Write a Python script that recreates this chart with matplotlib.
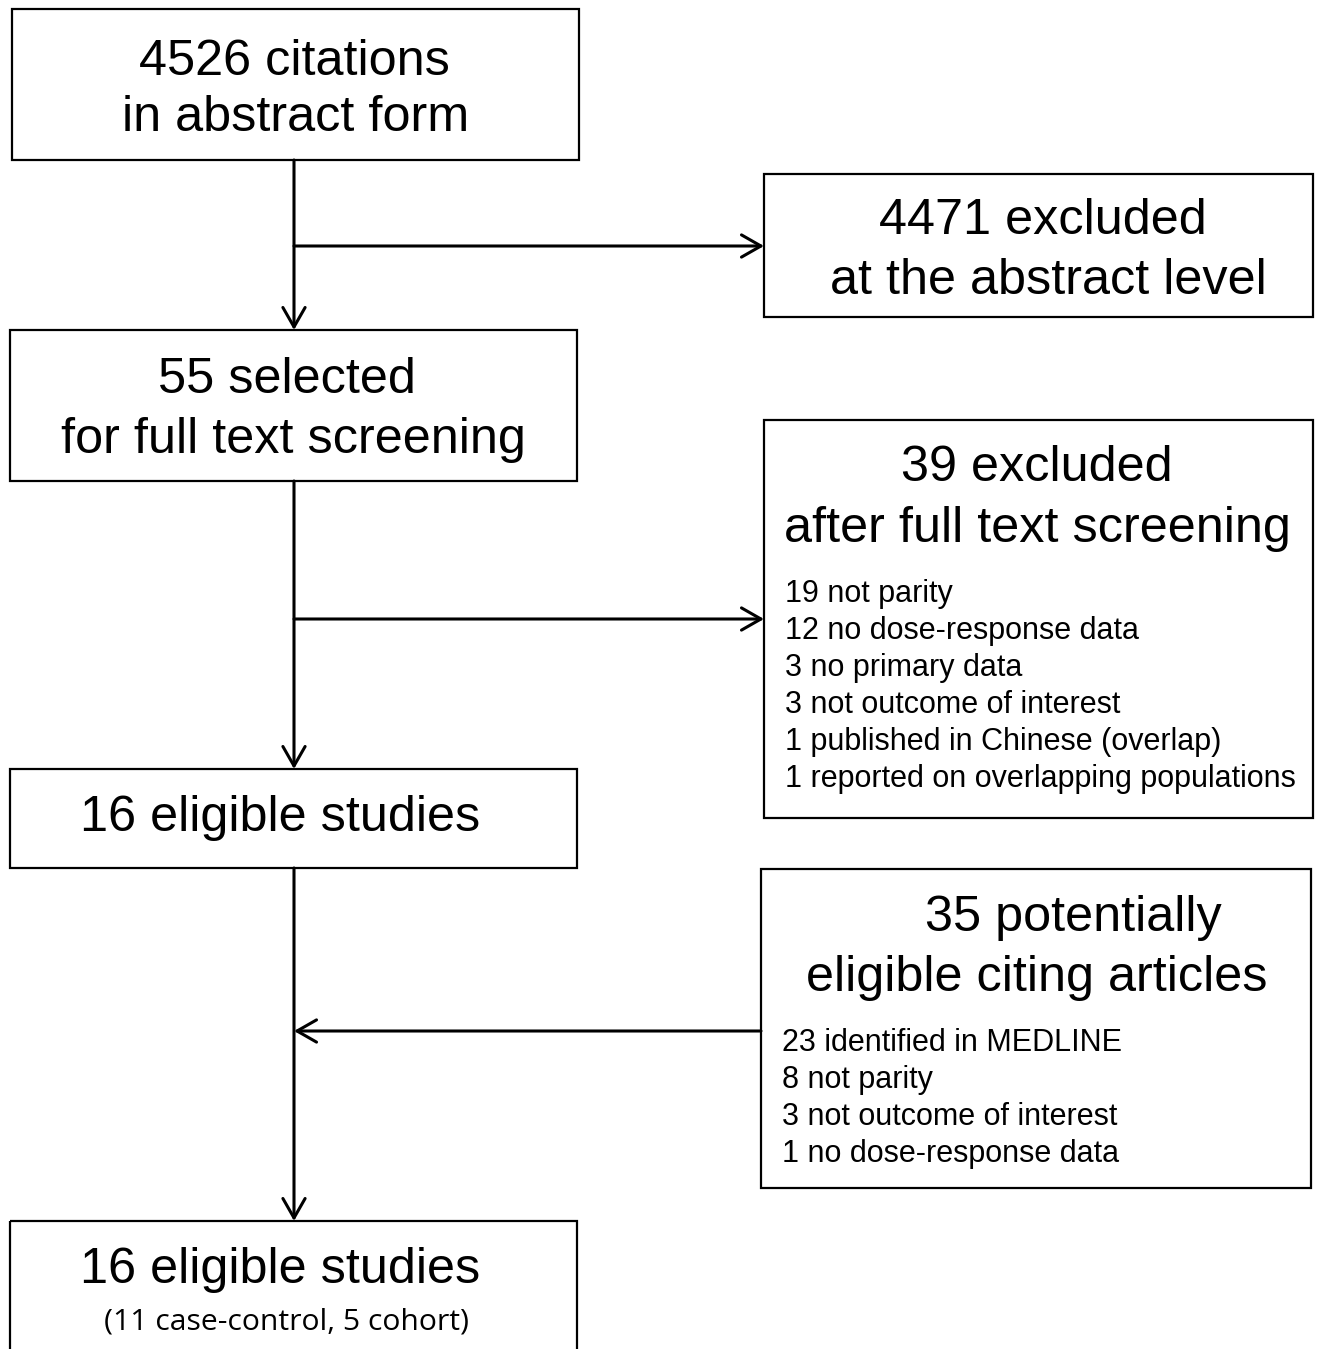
import matplotlib
matplotlib.use("Agg")
import matplotlib.pyplot as plt
from matplotlib.patches import Rectangle

W, H = 1320, 1349

# Textos de las cajas
caja1 = ["4526 citations", "in abstract form"]
caja2 = ["4471 excluded", "at the abstract level"]
caja3 = ["55 selected", "for full text screening"]
caja4 = ["39 excluded", "after full text screening"]
caja4_items = ["19 not parity", "12 no dose-response data", "3 no primary data",
               "3 not outcome of interest", "1 published in Chinese (overlap)",
               "1 reported on overlapping populations"]
caja5 = ["16 eligible studies"]
caja6 = ["35 potentially", "eligible citing articles"]
caja6_items = ["23 identified in MEDLINE", "8 not parity", "3 not outcome of interest",
               "1 no dose-response data"]
caja7 = ["16 eligible studies"]
caja7_sub = "(11 case-control, 5 cohort)"

fig = plt.figure(figsize=(W / 100, H / 100), dpi=100)
ax = fig.add_axes([0, 0, 1, 1])
ax.set_xlim(0, W)
ax.set_ylim(H, 0)
ax.axis("off")

FONT = "Liberation Sans"
BIG = 36.3
SMALL = 22


def caja(x0, y0, x1, y1):
    ax.add_patch(Rectangle((x0, y0), x1 - x0, y1 - y0, fill=False,
                           edgecolor="black", linewidth=1.6))


def titulo(lineas, xs, ys, size=BIG):
    for t, x, y in zip(lineas, xs, ys):
        ax.text(x, y, t, ha="center", va="baseline", fontsize=size, family=FONT)


def lista(items, x, y0, paso=37):
    for i, t in enumerate(items):
        ax.text(x, y0 + i * paso, t, ha="left", va="baseline", fontsize=SMALL, family=FONT)


def flecha(x0, y0, x1, y1):
    ax.annotate("", xy=(x1, y1), xytext=(x0, y0),
                arrowprops=dict(arrowstyle="->,head_length=0.7,head_width=0.4",
                                mutation_scale=20, lw=2.2, color="black",
                                shrinkA=0, shrinkB=0))


caja(12, 9, 579, 160)
titulo(caja1, [294, 296], [75, 131])

caja(764, 174, 1313, 317)
titulo(caja2, [1043, 1048], [234, 294])

caja(10, 330, 577, 481)
titulo(caja3, [287, 293], [393, 453])

caja(764, 420, 1313, 818)
titulo(caja4, [1037, 1037], [481, 542])
lista(caja4_items, 785, 602)

caja(10, 769, 577, 868)
titulo(caja5, [280], [831])

caja(761, 869, 1311, 1188)
titulo(caja6, [1073, 1037], [931, 991])
lista(caja6_items, 782, 1051)

caja(10, 1221, 577, 1360)
titulo(caja7, [280], [1283])
ax.text(287, 1330, caja7_sub, ha="center", va="baseline", fontsize=21.7,
        family=["Open Sans", "DejaVu Sans"])

# Flechas
flecha(294, 160, 294, 330)
flecha(294, 246, 764, 246)
flecha(294, 481, 294, 769)
flecha(294, 619, 764, 619)
flecha(294, 868, 294, 1221)
flecha(761, 1031, 294, 1031)

fig.savefig("out.png", dpi=100)
